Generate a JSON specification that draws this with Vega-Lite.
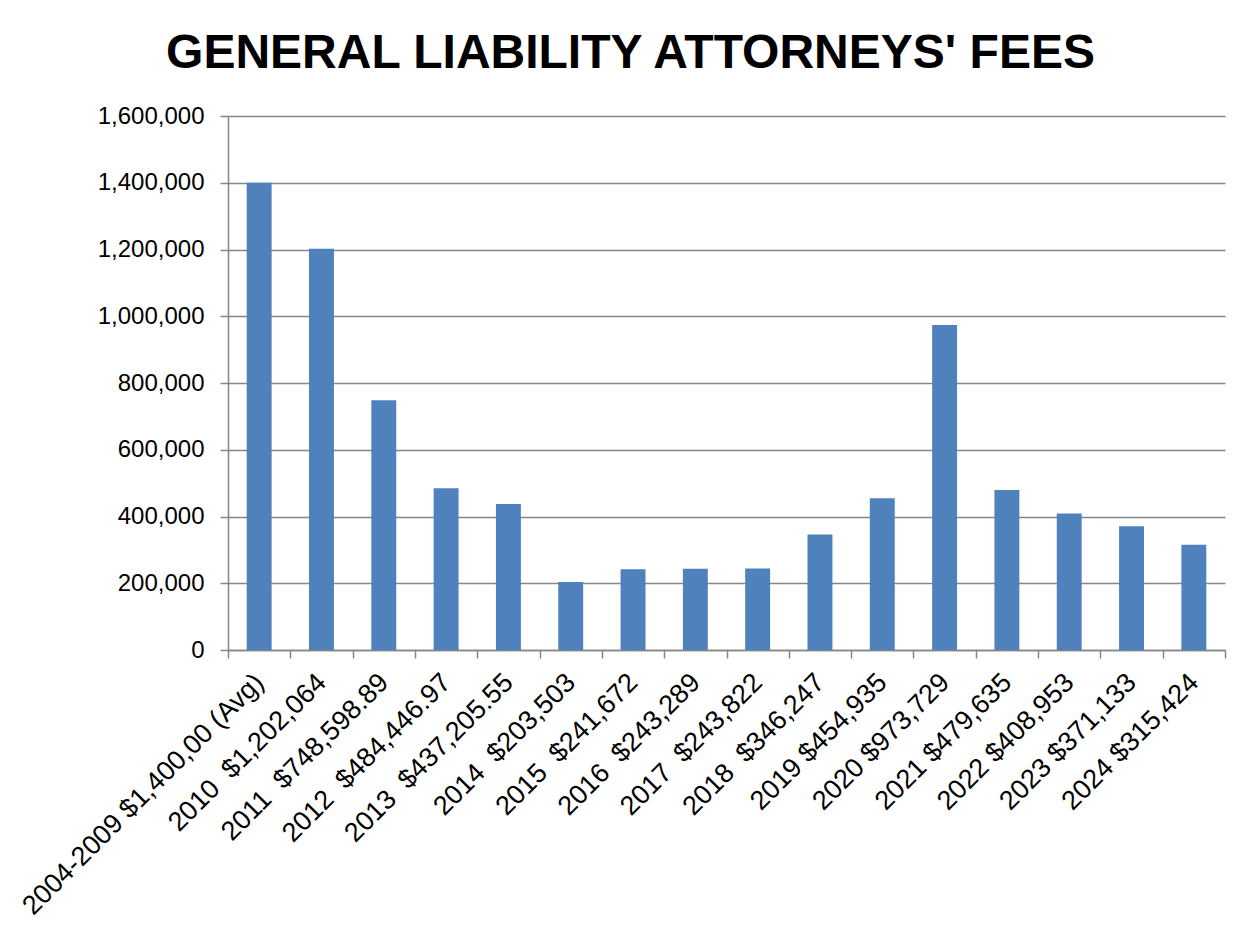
{
  "$schema": "https://vega.github.io/schema/vega-lite/v6.json",
  "width": 997,
  "height": 534,
  "autosize": {"type": "none"},
  "padding": {"left": 228, "top": 116, "right": 28, "bottom": 279},
  "background": "white",
  "config": {
    "font": "Liberation Sans",
    "view": {"stroke": null},
    "axis": {"labelFontSize": 24, "labelFont": "Liberation Sans", "labelColor": "black"}
  },
  "title": {
    "text": "GENERAL LIABILITY ATTORNEYS' FEES",
    "font": "Liberation Sans",
    "fontSize": 48,
    "fontWeight": "bold",
    "color": "black",
    "anchor": "middle",
    "dx": -96,
    "offset": 26
  },
  "data": {
    "values": [
      {"label": "2004-2009 $1,400,00 (Avg)", "fees": 1400000},
      {"label": "2010\u00a0 $1,202,064", "fees": 1202064},
      {"label": "2011\u00a0 $748,598.89", "fees": 748598.89},
      {"label": "2012\u00a0 $484,446.97", "fees": 484446.97},
      {"label": "2013\u00a0 $437,205.55", "fees": 437205.55},
      {"label": "2014\u00a0 $203,503", "fees": 203503},
      {"label": "2015\u00a0 $241,672", "fees": 241672},
      {"label": "2016\u00a0 $243,289", "fees": 243289},
      {"label": "2017\u00a0 $243,822", "fees": 243822},
      {"label": "2018\u00a0 $346,247", "fees": 346247},
      {"label": "2019 $454,935", "fees": 454935},
      {"label": "2020 $973,729", "fees": 973729},
      {"label": "2021 $479,635", "fees": 479635},
      {"label": "2022 $408,953", "fees": 408953},
      {"label": "2023 $371,133", "fees": 371133},
      {"label": "2024 $315,424", "fees": 315424}
    ]
  },
  "mark": {"type": "bar", "color": "#4F81BD", "width": {"band": 0.4}},
  "encoding": {
    "x": {
      "field": "label",
      "type": "nominal",
      "sort": null,
      "scale": {"paddingInner": 0, "paddingOuter": 0},
      "axis": {
        "title": null,
        "labelAngle": -45,
        "labelAlign": "right",
        "labelBaseline": "middle",
        "labelFontSize": 27,
        "labelPadding": 20,
        "labelOverlap": false,
        "labelLimit": 600,
        "tickBand": "extent",
        "tickSize": 8,
        "tickColor": "#868686",
        "tickWidth": 1.5,
        "domainColor": "#868686",
        "domainWidth": 1.5,
        "grid": false
      }
    },
    "y": {
      "field": "fees",
      "type": "quantitative",
      "scale": {"domain": [0, 1600000], "nice": false},
      "axis": {
        "title": null,
        "values": [0, 200000, 400000, 600000, 800000, 1000000, 1200000, 1400000, 1600000],
        "format": ",.0f",
        "labelFontSize": 24,
        "labelPadding": 16,
        "tickSize": 8,
        "tickColor": "#868686",
        "tickWidth": 1.5,
        "domainColor": "#868686",
        "domainWidth": 1.5,
        "grid": true,
        "gridColor": "#868686",
        "gridWidth": 1.5
      }
    }
  }
}
